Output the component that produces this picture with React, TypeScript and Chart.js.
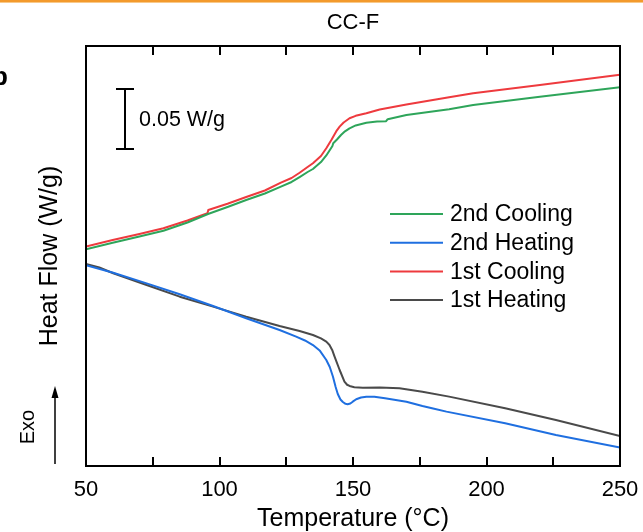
import React, { useEffect, useRef } from "react";
import { Chart, registerables } from "chart.js";

Chart.register(...registerables);

const FONT = '"Liberation Sans", Arial, Helvetica, sans-serif';

const CHART_TITLE = "CC-F";
const X_TITLE = "Temperature (°C)";
const Y_TITLE = "Heat Flow (W/g)";
const X_MIN = 50;
const X_MAX = 250;
const X_STEP = 25;
const X_LABEL_STEP = 50;
const Y_MIN = 0;
const Y_MAX = 0.35;

// Scale bar: 0.05 W/g
const SCALE_BAR_T = 64.6;
const SCALE_BAR_LOW = 0.2642;
const SCALE_BAR_HIGH = 0.3142;
const SCALE_BAR_LABEL = "0.05 W/g";

// 2nd Cooling (green)
const cool2T = [50, 60, 70, 79, 88, 95.7, 103, 110, 117, 123, 127, 130, 133, 135, 138, 140, 142.3, 142.6, 144, 145.5, 147, 148.7, 151, 155, 159, 162.4, 163, 170, 186, 195, 220, 250];
const cool2V = [0.1806, 0.1861, 0.1913, 0.1961, 0.2029, 0.21, 0.2158, 0.2217, 0.2271, 0.2328, 0.2367, 0.2408, 0.245, 0.2475, 0.2533, 0.2588, 0.2667, 0.2689, 0.2721, 0.2758, 0.2789, 0.2814, 0.2838, 0.2861, 0.287, 0.2873, 0.289, 0.2925, 0.2973, 0.3008, 0.3078, 0.3156];

// 2nd Heating (blue)
const heat2T = [50, 60.2, 72.7, 85.1, 97.6, 110, 122.5, 128.7, 132, 135, 137.5, 140, 141.3, 142.5, 143.5, 144.3, 145.3, 146.2, 147.2, 148, 149, 149.9, 151.2, 153, 155, 158, 162, 170, 176, 180, 185, 207, 226, 250];
const heat2V = [0.1673, 0.1611, 0.1522, 0.1431, 0.1333, 0.1231, 0.1133, 0.1078, 0.1046, 0.1008, 0.0963, 0.0883, 0.0825, 0.0744, 0.0658, 0.06, 0.0554, 0.0533, 0.0518, 0.0515, 0.0521, 0.0536, 0.0556, 0.0571, 0.0578, 0.0578, 0.0564, 0.0536, 0.05, 0.0479, 0.0453, 0.0356, 0.0258, 0.0153];

// 1st Cooling (red)
const cool1T = [50, 60, 70, 79, 88, 95.5, 95.8, 103, 110, 117, 123, 127, 130, 133, 135, 138, 140, 142, 143.7, 145, 146.5, 148.7, 151, 155, 160, 170, 186, 195, 220, 250];
const cool1V = [0.1828, 0.1883, 0.1933, 0.1981, 0.2046, 0.2106, 0.2133, 0.2185, 0.2242, 0.2296, 0.2361, 0.24, 0.2444, 0.2492, 0.2523, 0.2583, 0.2648, 0.2721, 0.2788, 0.2828, 0.2863, 0.2898, 0.2918, 0.2939, 0.2971, 0.3013, 0.3073, 0.3106, 0.3175, 0.3261];

// 1st Heating (dark gray)
const heat1T = [50, 55, 60.2, 72.7, 85.1, 97.6, 110, 122.5, 130, 135, 138, 140, 141.2, 142.2, 143.1, 145, 146.8, 147.8, 148.7, 150.5, 153.7, 160, 167.4, 176, 186, 207, 226, 250];
const heat1V = [0.1683, 0.1654, 0.1606, 0.1508, 0.1411, 0.1328, 0.1244, 0.1167, 0.1125, 0.1092, 0.1063, 0.1036, 0.1008, 0.0967, 0.0911, 0.08, 0.0703, 0.0677, 0.0667, 0.0657, 0.0653, 0.0654, 0.0648, 0.0619, 0.0578, 0.0481, 0.0383, 0.025];

const seriesNames = ["2nd Cooling", "2nd Heating", "1st Cooling", "1st Heating"];
const seriesColors = ["#2ea55a", "#1f6fe0", "#ee3a3e", "#4a4a4a"];
const seriesT = [cool2T, heat2T, cool1T, heat1T];
const seriesV = [cool2V, heat2V, cool1V, heat1V];

const decorPlugin = {
  id: "decor",
  afterDraw(chart: any) {
    const ctx = chart.ctx;
    const { left, right, top, bottom } = chart.chartArea;
    const xs = chart.scales.x;
    const ys = chart.scales.y;
    ctx.save();

    // orange top strip
    ctx.fillStyle = "#f39a2c";
    ctx.fillRect(0, 0, chart.width, 2);
    ctx.fillStyle = "#f8c98a";
    ctx.fillRect(0, 2, chart.width, 1);

    // frame
    ctx.strokeStyle = "#000";
    ctx.lineWidth = 2;
    ctx.strokeRect(left, top, right - left, bottom - top);

    // inward ticks top and bottom
    xs.ticks.forEach((t: any) => {
      const px = Math.round(xs.getPixelForValue(t.value));
      ctx.beginPath();
      ctx.moveTo(px, bottom);
      ctx.lineTo(px, bottom - 9);
      ctx.moveTo(px, top);
      ctx.lineTo(px, top + 9);
      ctx.stroke();
    });

    // scale bar
    const sx = Math.round(xs.getPixelForValue(SCALE_BAR_T));
    const sy1 = ys.getPixelForValue(SCALE_BAR_HIGH);
    const sy2 = ys.getPixelForValue(SCALE_BAR_LOW);
    ctx.beginPath();
    ctx.moveTo(sx, sy1);
    ctx.lineTo(sx, sy2);
    ctx.moveTo(sx - 9, sy1);
    ctx.lineTo(sx + 9, sy1);
    ctx.moveTo(sx - 9, sy2);
    ctx.lineTo(sx + 9, sy2);
    ctx.stroke();
    ctx.fillStyle = "#000";
    ctx.font = `21.5px ${FONT}`;
    ctx.textAlign = "left";
    ctx.textBaseline = "middle";
    ctx.fillText(SCALE_BAR_LABEL, sx + 14, (sy1 + sy2) / 2 + 1);

    // legend
    ctx.font = `23px ${FONT}`;
    const lgX = 390;
    const lgY = 214;
    const lgStep = 28.7;
    seriesNames.forEach((name, i) => {
      const y = lgY + i * lgStep;
      ctx.strokeStyle = seriesColors[i];
      ctx.lineWidth = 2;
      ctx.beginPath();
      ctx.moveTo(lgX, y);
      ctx.lineTo(lgX + 53, y);
      ctx.stroke();
      ctx.fillStyle = "#000";
      ctx.fillText(name, lgX + 60, y + 1);
    });

    // title
    ctx.fillStyle = "#000";
    ctx.textAlign = "center";
    ctx.font = `22px ${FONT}`;
    ctx.fillText(CHART_TITLE, (left + right) / 2, 23);

    // x title
    ctx.font = `25px ${FONT}`;
    ctx.fillText(X_TITLE, (left + right) / 2, 519);

    // y title
    ctx.save();
    ctx.translate(50, (top + bottom) / 2);
    ctx.rotate(-Math.PI / 2);
    ctx.fillText(Y_TITLE, 0, 0);
    ctx.restore();

    // Exo
    ctx.save();
    ctx.font = `20px ${FONT}`;
    ctx.translate(28, 427);
    ctx.rotate(-Math.PI / 2);
    ctx.fillText("Exo", 0, 0);
    ctx.restore();

    // arrow
    ctx.strokeStyle = "#000";
    ctx.lineWidth = 1.5;
    ctx.beginPath();
    ctx.moveTo(55, 464);
    ctx.lineTo(55, 395);
    ctx.stroke();
    ctx.beginPath();
    ctx.moveTo(55, 386);
    ctx.lineTo(51.5, 398);
    ctx.lineTo(58.5, 398);
    ctx.closePath();
    ctx.fill();

    // panel label
    ctx.font = `bold 26px ${FONT}`;
    ctx.textAlign = "right";
    ctx.textBaseline = "alphabetic";
    ctx.fillText("b", 8, 85);

    ctx.restore();
  },
};

export default function App() {
  const ref = useRef<HTMLCanvasElement | null>(null);
  useEffect(() => {
    if (!ref.current) return;
    const chart = new Chart(ref.current, {
      type: "line",
      data: {
        datasets: seriesNames.map((name, i) => ({
          label: name,
          data: seriesT[i].map((t, j) => ({ x: t, y: seriesV[i][j] })),
          borderColor: seriesColors[i],
          backgroundColor: seriesColors[i],
          borderWidth: 2,
          pointRadius: 0,
          fill: false,
          tension: 0,
          borderJoinStyle: "round" as const,
        })),
      },
      options: {
        responsive: false,
        animation: false,
        events: [],
        layout: { padding: { top: 46, right: 23, left: 0, bottom: 0 } },
        plugins: {
          legend: { display: false },
          tooltip: { enabled: false },
          title: { display: false },
        },
        scales: {
          x: {
            type: "linear",
            min: X_MIN,
            max: X_MAX,
            grid: { display: false },
            border: { display: false },
            ticks: {
              stepSize: X_STEP,
              padding: 3,
              color: "#000",
              font: { size: 22, family: FONT },
              maxRotation: 0,
              autoSkip: false,
              callback: (v: any) => (Number(v) % X_LABEL_STEP === 0 ? String(v) : ""),
            },
            afterFit: (s: any) => {
              s.height = 66;
              s.paddingLeft = 0;
              s.paddingRight = 0;
            },
          },
          y: {
            type: "linear",
            min: Y_MIN,
            max: Y_MAX,
            grid: { display: false },
            border: { display: false },
            ticks: { display: false },
            afterFit: (s: any) => {
              s.width = 86;
              s.paddingTop = 0;
              s.paddingBottom = 0;
            },
          },
        },
      },
      plugins: [decorPlugin],
    });
    return () => chart.destroy();
  }, []);
  return (
    <div style={{ position: "fixed", left: 0, top: 0, width: 643, height: 532, background: "#fff" }}>
      <canvas ref={ref} width={643} height={532} style={{ display: "block" }} />
    </div>
  );
}
